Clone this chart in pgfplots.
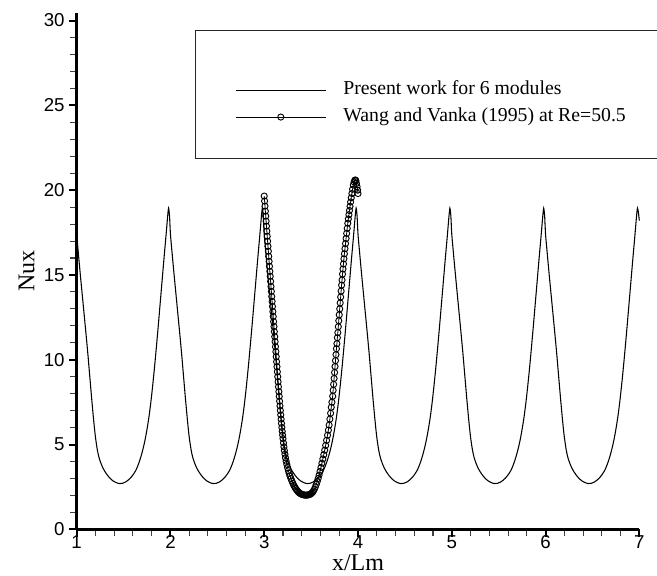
\documentclass[border=0pt]{standalone}
\usepackage{fontspec}
\setmainfont{Liberation Serif}
\newfontfamily\arialfont{Liberation Sans}
\usepackage{pgfplots}
\usepackage{pgfplotstable}
\pgfplotsset{compat=1.18}
\pgfplotstableread{
x y
1.00 17.4
1.02 16.15
1.04 14.95
1.06 13.8
1.08 12.65
1.10 11.5
1.12 10.3
1.13 9.65
1.14 9.0
1.15 8.35
1.16 7.7
1.17 7.1
1.18 6.5
1.19 5.95
1.20 5.45
1.21 5.05
1.22 4.7
1.23 4.42
1.24 4.2
1.26 3.88
1.28 3.62
1.30 3.42
1.33 3.18
1.36 2.99
1.39 2.85
1.42 2.76
1.456 2.70
1.49 2.72
1.52 2.79
1.55 2.91
1.58 3.07
1.61 3.29
1.63 3.47
1.65 3.72
1.67 4.02
1.69 4.38
1.71 4.8
1.73 5.3
1.75 5.9
1.77 6.6
1.79 7.45
1.81 8.45
1.83 9.55
1.85 10.75
1.87 12.0
1.89 13.3
1.91 14.6
1.93 15.9
1.95 17.15
1.96 17.8
1.97 18.45
1.98 18.94
1.99 18.5
2.00 17.4
2.02 16.15
2.04 14.95
2.06 13.8
2.08 12.65
2.10 11.5
2.12 10.3
2.13 9.65
2.14 9.0
2.15 8.35
2.16 7.7
2.17 7.1
2.18 6.5
2.19 5.95
2.20 5.45
2.21 5.05
2.22 4.7
2.23 4.42
2.24 4.2
2.26 3.88
2.28 3.62
2.30 3.42
2.33 3.18
2.36 2.99
2.39 2.85
2.42 2.76
2.456 2.70
2.49 2.72
2.52 2.79
2.55 2.91
2.58 3.07
2.61 3.29
2.63 3.47
2.65 3.72
2.67 4.02
2.69 4.38
2.71 4.8
2.73 5.3
2.75 5.9
2.77 6.6
2.79 7.45
2.81 8.45
2.83 9.55
2.85 10.75
2.87 12.0
2.89 13.3
2.91 14.6
2.93 15.9
2.95 17.15
2.96 17.8
2.97 18.45
2.98 18.94
2.99 18.5
3.00 17.4
3.02 16.15
3.04 14.95
3.06 13.8
3.08 12.65
3.10 11.5
3.12 10.3
3.13 9.65
3.14 9.0
3.15 8.35
3.16 7.7
3.17 7.1
3.18 6.5
3.19 5.95
3.20 5.45
3.21 5.05
3.22 4.7
3.23 4.42
3.24 4.2
3.26 3.88
3.28 3.62
3.30 3.42
3.33 3.18
3.36 2.99
3.39 2.85
3.42 2.76
3.456 2.70
3.49 2.72
3.52 2.79
3.55 2.91
3.58 3.07
3.61 3.29
3.63 3.47
3.65 3.72
3.67 4.02
3.69 4.38
3.71 4.8
3.73 5.3
3.75 5.9
3.77 6.6
3.79 7.45
3.81 8.45
3.83 9.55
3.85 10.75
3.87 12.0
3.89 13.3
3.91 14.6
3.93 15.9
3.95 17.15
3.96 17.8
3.97 18.45
3.98 18.94
3.99 18.5
4.00 17.4
4.02 16.15
4.04 14.95
4.06 13.8
4.08 12.65
4.10 11.5
4.12 10.3
4.13 9.65
4.14 9.0
4.15 8.35
4.16 7.7
4.17 7.1
4.18 6.5
4.19 5.95
4.20 5.45
4.21 5.05
4.22 4.7
4.23 4.42
4.24 4.2
4.26 3.88
4.28 3.62
4.30 3.42
4.33 3.18
4.36 2.99
4.39 2.85
4.42 2.76
4.456 2.70
4.49 2.72
4.52 2.79
4.55 2.91
4.58 3.07
4.61 3.29
4.63 3.47
4.65 3.72
4.67 4.02
4.69 4.38
4.71 4.8
4.73 5.3
4.75 5.9
4.77 6.6
4.79 7.45
4.81 8.45
4.83 9.55
4.85 10.75
4.87 12.0
4.89 13.3
4.91 14.6
4.93 15.9
4.95 17.15
4.96 17.8
4.97 18.45
4.98 18.94
4.99 18.5
5.00 17.4
5.02 16.15
5.04 14.95
5.06 13.8
5.08 12.65
5.10 11.5
5.12 10.3
5.13 9.65
5.14 9.0
5.15 8.35
5.16 7.7
5.17 7.1
5.18 6.5
5.19 5.95
5.20 5.45
5.21 5.05
5.22 4.7
5.23 4.42
5.24 4.2
5.26 3.88
5.28 3.62
5.30 3.42
5.33 3.18
5.36 2.99
5.39 2.85
5.42 2.76
5.456 2.70
5.49 2.72
5.52 2.79
5.55 2.91
5.58 3.07
5.61 3.29
5.63 3.47
5.65 3.72
5.67 4.02
5.69 4.38
5.71 4.8
5.73 5.3
5.75 5.9
5.77 6.6
5.79 7.45
5.81 8.45
5.83 9.55
5.85 10.75
5.87 12.0
5.89 13.3
5.91 14.6
5.93 15.9
5.95 17.15
5.96 17.8
5.97 18.45
5.98 18.94
5.99 18.5
6.00 17.4
6.02 16.15
6.04 14.95
6.06 13.8
6.08 12.65
6.10 11.5
6.12 10.3
6.13 9.65
6.14 9.0
6.15 8.35
6.16 7.7
6.17 7.1
6.18 6.5
6.19 5.95
6.20 5.45
6.21 5.05
6.22 4.7
6.23 4.42
6.24 4.2
6.26 3.88
6.28 3.62
6.30 3.42
6.33 3.18
6.36 2.99
6.39 2.85
6.42 2.76
6.456 2.70
6.49 2.72
6.52 2.79
6.55 2.91
6.58 3.07
6.61 3.29
6.63 3.47
6.65 3.72
6.67 4.02
6.69 4.38
6.71 4.8
6.73 5.3
6.75 5.9
6.77 6.6
6.79 7.45
6.81 8.45
6.83 9.55
6.85 10.75
6.87 12.0
6.89 13.3
6.91 14.6
6.93 15.9
6.95 17.15
6.96 17.8
6.97 18.45
6.98 18.94
6.99 18.7
7.00 18.2
}\presentwork
\pgfplotstableread{
x y
3.000 19.65
3.004 19.36
3.008 19.06
3.012 18.76
3.016 18.47
3.020 18.17
3.024 17.88
3.028 17.58
3.032 17.28
3.036 16.99
3.040 16.69
3.044 16.40
3.048 16.10
3.052 15.80
3.056 15.51
3.060 15.21
3.064 14.92
3.068 14.62
3.072 14.32
3.076 14.03
3.080 13.73
3.084 13.44
3.088 13.14
3.092 12.84
3.096 12.55
3.100 12.25
3.104 11.96
3.108 11.66
3.112 11.36
3.116 11.07
3.120 10.77
3.124 10.48
3.128 10.18
3.132 9.88
3.136 9.59
3.140 9.29
3.144 9.00
3.148 8.70
3.152 8.41
3.156 8.12
3.160 7.84
3.164 7.56
3.168 7.28
3.172 7.01
3.176 6.75
3.180 6.50
3.184 6.25
3.188 6.01
3.192 5.78
3.196 5.56
3.200 5.35
3.205 5.10
3.210 4.87
3.215 4.65
3.221 4.43
3.227 4.22
3.234 4.02
3.241 3.83
3.249 3.64
3.257 3.47
3.266 3.30
3.275 3.14
3.285 2.99
3.295 2.85
3.305 2.72
3.315 2.60
3.325 2.50
3.335 2.41
3.345 2.33
3.355 2.26
3.365 2.20
3.375 2.15
3.385 2.11
3.395 2.08
3.405 2.06
3.415 2.04
3.425 2.03
3.435 2.02
3.445 2.02
3.455 2.02
3.465 2.03
3.475 2.04
3.485 2.06
3.495 2.09
3.505 2.13
3.515 2.19
3.525 2.27
3.535 2.37
3.545 2.50
3.555 2.65
3.565 2.82
3.575 3.00
3.585 3.20
3.595 3.42
3.605 3.65
3.615 3.90
3.625 4.15
3.635 4.40
3.645 4.67
3.655 4.95
3.665 5.25
3.675 5.55
3.684 5.85
3.692 6.15
3.700 6.50
3.708 6.85
3.715 7.20
3.722 7.50
3.730 7.85
3.735 8.20
3.740 8.55
3.745 8.90
3.750 9.25
3.755 9.60
3.760 9.95
3.765 10.30
3.770 10.65
3.775 10.95
3.780 11.30
3.785 11.60
3.790 11.95
3.795 12.30
3.800 12.65
3.805 13.00
3.810 13.35
3.815 13.70
3.820 14.05
3.825 14.40
3.830 14.70
3.835 15.05
3.840 15.35
3.845 15.65
3.850 15.95
3.855 16.25
3.861 16.55
3.867 16.85
3.873 17.15
3.879 17.45
3.885 17.75
3.891 18.05
3.897 18.30
3.903 18.55
3.909 18.80
3.915 19.05
3.921 19.30
3.928 19.55
3.935 19.80
3.942 20.05
3.950 20.30
3.958 20.48
3.966 20.58
3.972 20.60
3.978 20.55
3.983 20.40
3.990 20.20
3.996 20.00
4.000 19.80
}\wangvanka
\begin{document}
\begin{tikzpicture}
\begin{axis}[
  at={(0,0)}, anchor=south west,
  scale only axis, width=421.95pt, height=387.45pt,
  xmin=1, xmax=7, ymin=0, ymax=30.46,
  axis lines=left,
  axis line style={-, line width=2.2pt},
  tick align=outside,
  xtick={1,2,3,4,5,6,7}, ytick={0,5,10,15,20,25,30},
  minor tick num=4,
  major tick length=5.5pt, minor tick length=5.25pt,
  major tick style={line width=1.5pt, black},
  minor tick style={line width=0.8pt, black!75},
  /pgf/number format/assume math mode=true,
  tick label style={font=\arialfont\fontsize{14}{14}\selectfont},
  xticklabel style={inner sep=1pt, yshift=2pt},
  xlabel={x/Lm}, ylabel={Nux},
  label style={font=\fontsize{18}{18}\selectfont},
  xlabel style={at={(axis description cs:0.5,-0.0795)}, anchor=base, inner sep=0pt},
  ylabel style={at={(axis description cs:-0.0889,0.5)}, anchor=center},
  clip=false,
  legend cell align=left,
  legend image code/.code={\draw[mark repeat=2,mark phase=2,#1] plot coordinates {(0pt,0pt) (33.75pt,0pt) (67.5pt,0pt)};},
  legend style={draw=none, fill=none, at={(axis description cs:0.2814,0.8242)}, anchor=west,
    inner sep=0pt, font=\fontsize{14.8}{14.8}\selectfont,
    nodes={inner sep=0pt, text height=10pt, text depth=3.5pt},
    row sep=6.75pt, column sep=12.75pt},
]
\addplot[black, line width=0.8pt, smooth, tension=0.4] table {\presentwork};
\addlegendentry{Present work for 6 modules}
\addplot[black, line width=0.6pt, mark=o, mark size=2.3pt, mark options={line width=0.7pt}] table {\wangvanka};
\addlegendentry{Wang and Vanka (1995) at Re=50.5}
\coordinate (lgA) at (axis description cs:0.2103,0.9665);
\coordinate (lgB) at (axis description cs:1.3,0.7188);
\end{axis}
\draw[line width=0.6pt, black!85] (lgA) rectangle (lgB);
\pgfresetboundingbox
\path (-57.5pt,-34.3pt) rectangle (435.2pt,397pt);
\end{tikzpicture}
\end{document}
